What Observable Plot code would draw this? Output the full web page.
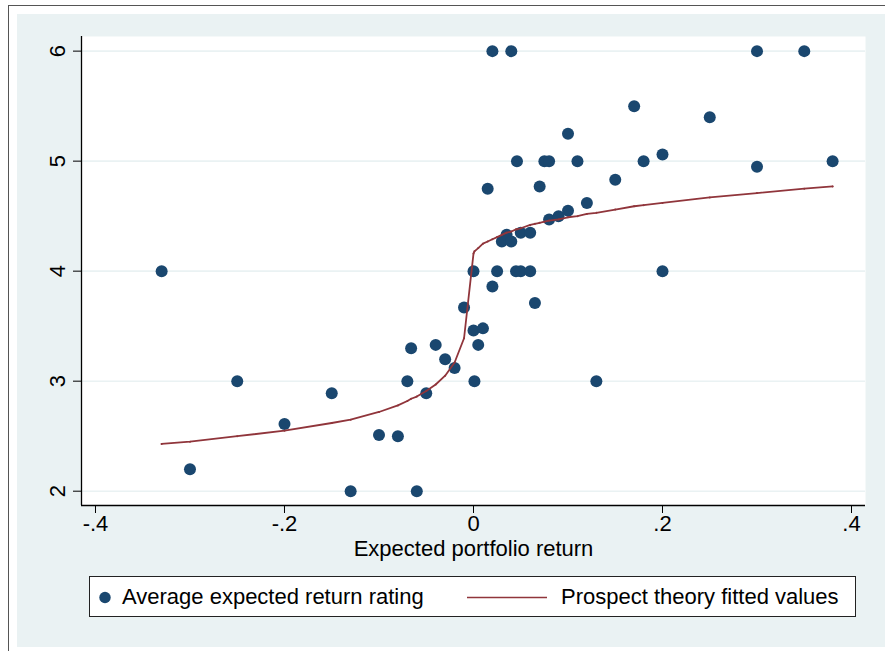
<!DOCTYPE html>
<html>
<head>
<meta charset="utf-8">
<script src="https://cdn.jsdelivr.net/npm/d3@7"></script>
<script src="https://cdn.jsdelivr.net/npm/@observablehq/plot@0.6"></script>
<style>
  html, body { margin: 0; padding: 0; background: #ffffff; }
  #page { position: relative; width: 885px; height: 651px; overflow: hidden; font-family: "Liberation Sans", Arial, sans-serif; }
  #outer { position: absolute; left: 8px; top: 5px; width: 900px; height: 700px; border: 1.5px solid #555; box-sizing: border-box; }
  #bg { position: absolute; left: 17px; top: 14px; width: 880px; height: 633px; background: #EAF2F3; }
  #chart { position: absolute; left: 0; top: 0; }
  #legend { position: absolute; left: 89px; top: 576px; width: 767px; height: 41px; box-sizing: border-box;
            border: 1px solid #222; background: #fff; font-size: 22px; color: #000; }
  .lg { position: absolute; top: 7px; white-space: nowrap; line-height: 25px; }
</style>
</head>
<body>
<div id="page">
  <div id="outer"></div>
  <div id="bg"></div>
  <div id="chart"></div>
  <div id="legend">
    <svg width="767" height="41" style="position:absolute;left:0;top:0">
      <circle cx="15" cy="20.5" r="5.7" fill="#1A476F"></circle>
      <line x1="377" x2="457" y1="20.5" y2="20.5" stroke="#90353B" stroke-width="1.6"></line>
    </svg>
    <span class="lg" style="left:32px">Average expected return rating</span>
    <span class="lg" style="left:471px">Prospect theory fitted values</span>
  </div>
</div>
<script>
// Scatter: expected portfolio return vs average expected return rating
const retX = [-0.33, -0.30, -0.25, -0.20, -0.15, -0.13, -0.10, -0.08, -0.07, -0.066,
              -0.06, -0.05, -0.04, -0.03, -0.02, -0.01, 0, 0, 0.001, 0.005,
              0.01, 0.015, 0.02, 0.02, 0.025, 0.03, 0.035, 0.04, 0.04, 0.045,
              0.046, 0.05, 0.05, 0.06, 0.06, 0.065, 0.07, 0.075, 0.08, 0.08,
              0.09, 0.10, 0.10, 0.11, 0.12, 0.13, 0.15, 0.17, 0.18, 0.20,
              0.20, 0.25, 0.30, 0.30, 0.35, 0.38];
const ratingY = [4, 2.2, 3, 2.61, 2.89, 2, 2.51, 2.5, 3, 3.3,
                 2, 2.89, 3.33, 3.2, 3.12, 3.67, 4, 3.46, 3, 3.33,
                 3.48, 4.75, 3.86, 6, 4, 4.27, 4.33, 4.27, 6, 4,
                 5, 4, 4.35, 4.35, 4, 3.71, 4.77, 5, 5, 4.47,
                 4.5, 4.55, 5.25, 5, 4.62, 3, 4.83, 5.5, 5, 5.06,
                 4, 5.4, 6, 4.95, 6, 5];

// Prospect theory fitted values
const fitX = [-0.33, -0.30, -0.25, -0.20, -0.15, -0.13, -0.10, -0.08, -0.07, -0.066,
              -0.06, -0.05, -0.04, -0.03, -0.02, -0.01, 0, 0.001, 0.005, 0.01,
              0.015, 0.02, 0.025, 0.03, 0.035, 0.04, 0.045, 0.046, 0.05, 0.06,
              0.065, 0.07, 0.075, 0.08, 0.09, 0.10, 0.11, 0.12, 0.13, 0.15,
              0.17, 0.18, 0.20, 0.25, 0.30, 0.35, 0.38];
const fitY = [2.43, 2.45, 2.50, 2.55, 2.62, 2.65, 2.72, 2.78, 2.82, 2.84,
              2.86, 2.91, 2.97, 3.05, 3.17, 3.39, 4.16, 4.18, 4.21, 4.25,
              4.27, 4.29, 4.31, 4.33, 4.35, 4.36, 4.38, 4.38, 4.39, 4.42,
              4.43, 4.44, 4.45, 4.46, 4.47, 4.49, 4.50, 4.52, 4.53, 4.56,
              4.59, 4.60, 4.62, 4.67, 4.71, 4.75, 4.77];

const xTicks = [-0.4, -0.2, 0, 0.2, 0.4];
const yTicks = [2, 3, 4, 5, 6];
const xTitle = "Expected portfolio return";

const points = retX.map((x, i) => ({x, y: ratingY[i]}));
const fit = fitX.map((x, i) => ({x, y: fitY[i]}));

const xDom = [-0.4148, 0.4148];
const yDom = [1.87, 6.133];
const fmtX = d => d === 0 ? "0" : (d < 0 ? "-" : "") + "." + Math.round(Math.abs(d) * 10);

const chart = Plot.plot({
  width: 885,
  height: 570,
  marginLeft: 81,
  marginRight: 20,
  marginTop: 36,
  marginBottom: 65,
  style: {fontFamily: "'Liberation Sans', Arial, sans-serif", fontSize: "22px", background: "transparent", color: "#000", overflow: "visible"},
  x: {domain: xDom},
  y: {domain: yDom},
  marks: [
    Plot.frame({fill: "white", stroke: "none"}),
    Plot.ruleY(yTicks, {stroke: "#EAF2F3", strokeWidth: 1.6}),
    Plot.ruleX([xDom[0]], {stroke: "#000", strokeWidth: 1.3}),
    Plot.ruleY([yDom[0]], {stroke: "#000", strokeWidth: 1.3}),
    Plot.axisX({ticks: xTicks, tickFormat: fmtX, tickSize: 8, tickPadding: 2, label: xTitle, labelAnchor: "center", labelOffset: 50, labelArrow: "none", fontSize: 22}),
    Plot.axisY({ticks: yTicks, tickFormat: () => "", tickSize: 8, label: null}),
    Plot.text(yTicks, {y: d => d, frameAnchor: "left", text: d => String(d), rotate: -90, dx: -24,
                       textAnchor: "middle", lineAnchor: "middle", fontSize: 22, fill: "#000"}),
    Plot.dot(points, {x: "x", y: "y", r: 6, fill: "#1A476F", stroke: "none"}),
    Plot.line(fit, {x: "x", y: "y", stroke: "#90353B", strokeWidth: 1.8}),
    Plot.dot(fit, {x: "x", y: "y", r: 1, fill: "#90353B"})
  ]
});
document.getElementById("chart").appendChild(chart);
</script>
</body>
</html>
